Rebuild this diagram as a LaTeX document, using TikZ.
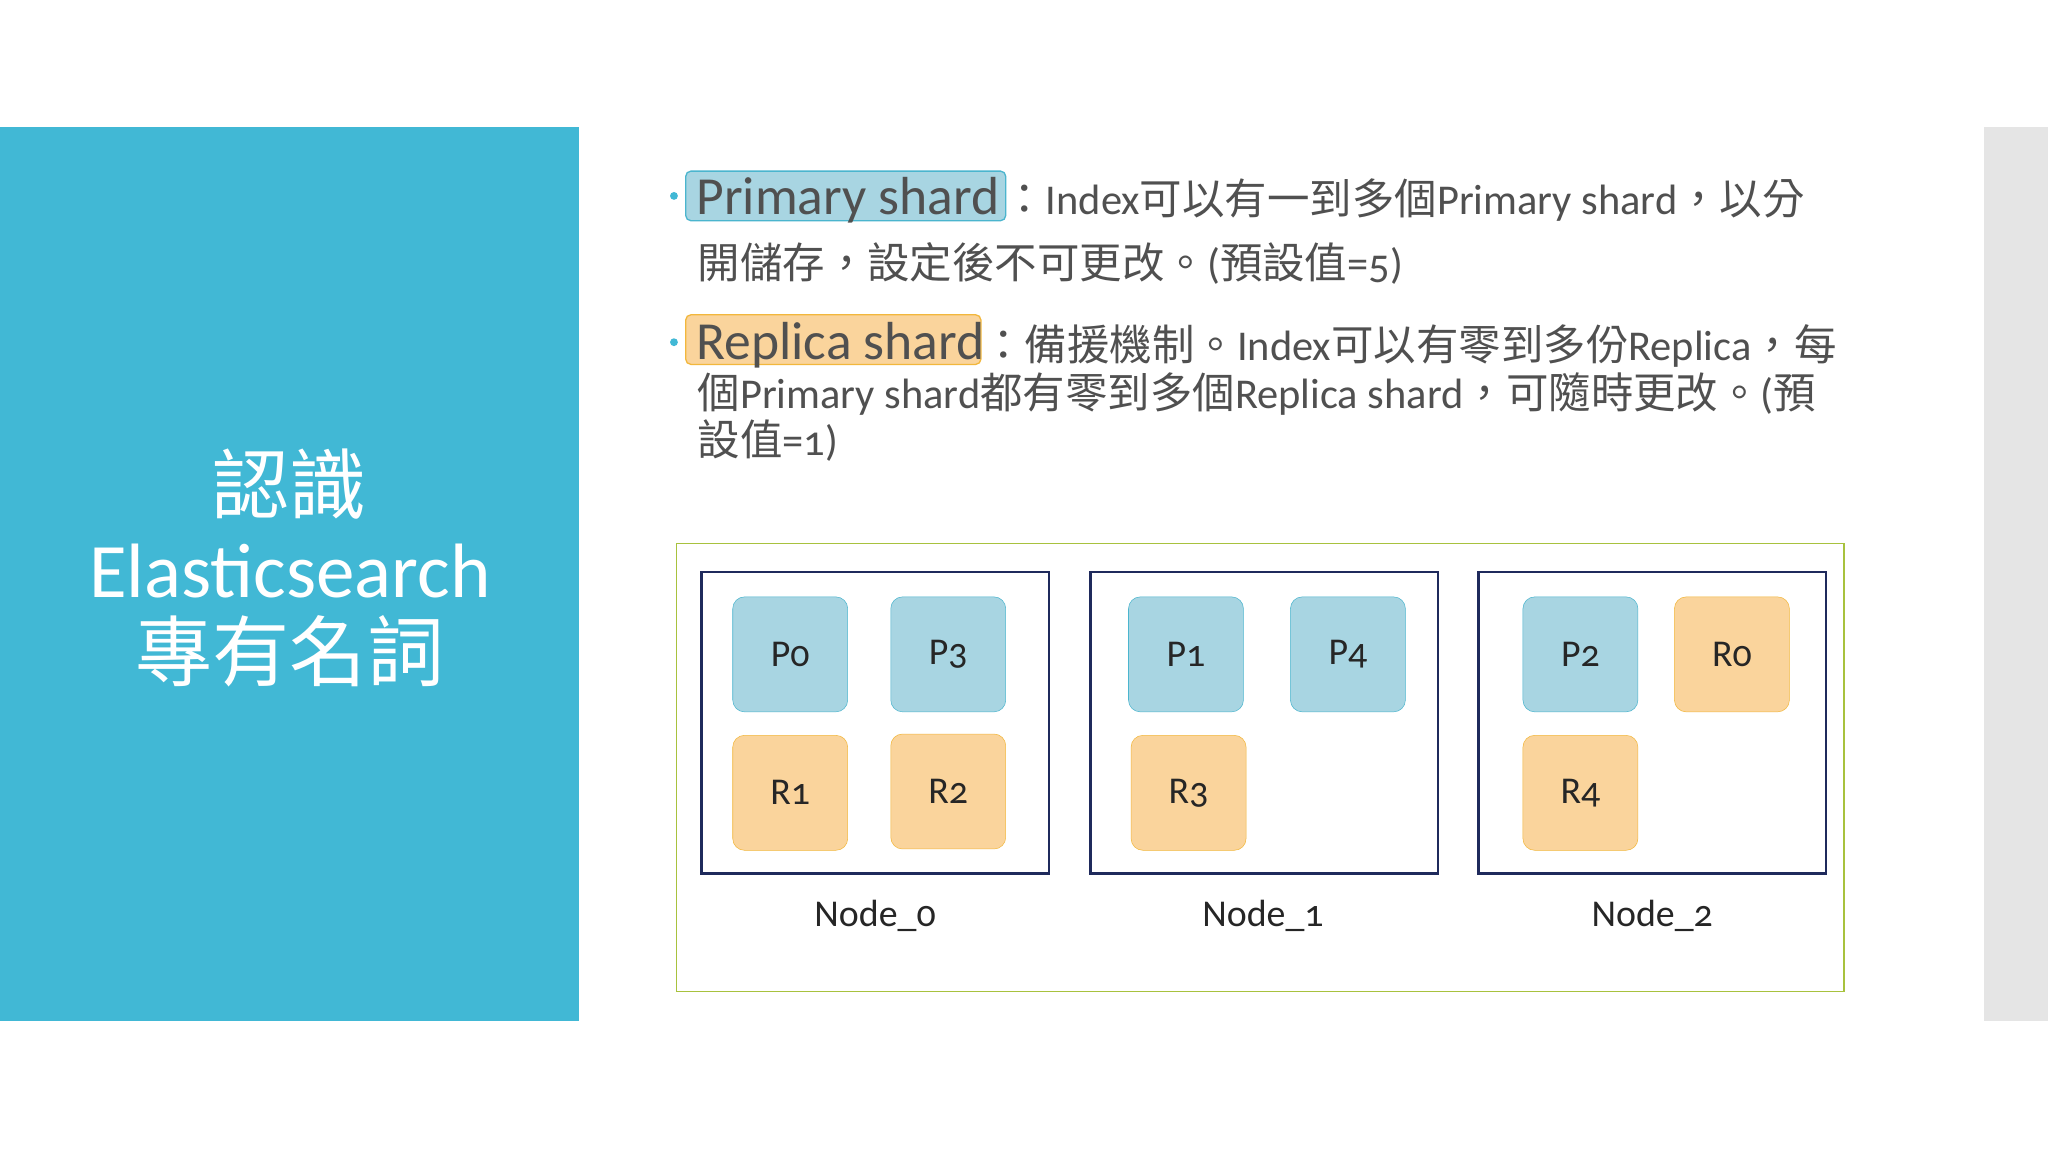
\documentclass[tikz,border=0pt]{standalone}
\usepackage{fontspec}
\setmainfont{Carlito}[Numbers=OldStyle]
\newfontfamily\cjk{Noto Sans CJK TC}
\newcommand{\cj}[1]{{\cjk #1}}
\definecolor{teal}{HTML}{41B8D5}
\definecolor{txt}{HTML}{505050}
\definecolor{pfill}{HTML}{A8D5E2}
\definecolor{pline}{HTML}{4BB5CE}
\definecolor{rfill}{HTML}{FAD49C}
\definecolor{rline}{HTML}{F2B73C}
\definecolor{navy}{HTML}{1F2A5C}
\definecolor{grn}{HTML}{A8C23E}
\tikzset{
 pshard/.style={draw=pline,fill=pfill,rounded corners=9pt,minimum size=88pt,inner sep=0,font=\fontsize{29}{29}\selectfont,text=black!85},
 rshard/.style={pshard,draw=rline,fill=rfill},
 nodebox/.style={draw=navy,line width=2pt},
 body/.style={anchor=base west,inner sep=0,text=txt,font=\fontsize{32.5}{32}\selectfont},
 lab/.style={font=\fontsize{29}{29}\selectfont,text=black!85,inner sep=0,anchor=base}
}
\begin{document}
\begin{tikzpicture}[x=1pt,y=-1pt]
\useasboundingbox (0,0) rectangle (1568,882);
\fill[white] (0,0) rectangle (1568,882);
\fill[teal] (0,97) rectangle (443,782);
\fill[black!10] (1519,97) rectangle (1568,782);
\node[text=white,align=center,font=\fontsize{59}{64}\selectfont] (title) at (222,435) {\cj{認識}\\Elasticsearch\\\cj{專有名詞}};
% bullets
\fill[teal] (516,150) circle (3pt);
\fill[teal] (516,262) circle (3pt);
\node[draw=pline,line width=1pt,fill=pfill,rounded corners=4pt,minimum width=245pt,minimum height=38pt,inner sep=0] (pbox) at (647.5,150) {};
\node[body,font=\fontsize{41}{41}\selectfont] (pt) at (533,164) {Primary shard};
\node[body] (l1) at (768,164) {\cj{：}Index\cj{可以有一到多個}Primary shard\cj{，以分}};
\node[body] (l2) at (534,213) {\cj{開儲存，設定後不可更改。}(\cj{預設值}=5)};
\node[draw=rline,line width=1pt,fill=rfill,rounded corners=4pt,minimum width=226pt,minimum height=38pt,inner sep=0] (rbox) at (638,260) {};
\node[body,font=\fontsize{41}{41}\selectfont] (rt) at (533,275) {Replica shard};
\node[body] (l3) at (752,276) {\cj{：備援機制。}Index\cj{可以有零到多份}Replica\cj{，每}};
\node[body] (l4) at (534,313) {\cj{個}Primary shard\cj{都有零到多個}Replica shard\cj{，可隨時更改。}(\cj{預}};
\node[body] (l5) at (534,349) {\cj{設值}=1)};
% diagram
\draw[grn,line width=1.2pt] (518,416) rectangle (1412,759);
\draw[nodebox] (537,438) rectangle (803,669);
\draw[nodebox] (835,438) rectangle (1101,669);
\draw[nodebox] (1132,438) rectangle (1398,669);
\node[pshard] (p0) at (605,501) {P0};
\node[pshard] (p3) at (726,501) {P3};
\node[rshard] (r1) at (605,607) {R1};
\node[rshard] (r2) at (726,606) {R2};
\node[pshard] (p1) at (908,501) {P1};
\node[pshard] (p4) at (1032,501) {P4};
\node[rshard] (r3) at (910,607) {R3};
\node[pshard] (p2) at (1210,501) {P2};
\node[rshard] (r0) at (1326,501) {R0};
\node[rshard] (r4) at (1210,607) {R4};
\node[lab] (n0) at (670,709) {Node\_0};
\node[lab] (n1) at (967,709) {Node\_1};
\node[lab] (n2) at (1265,709) {Node\_2};
\end{tikzpicture}
\end{document}
